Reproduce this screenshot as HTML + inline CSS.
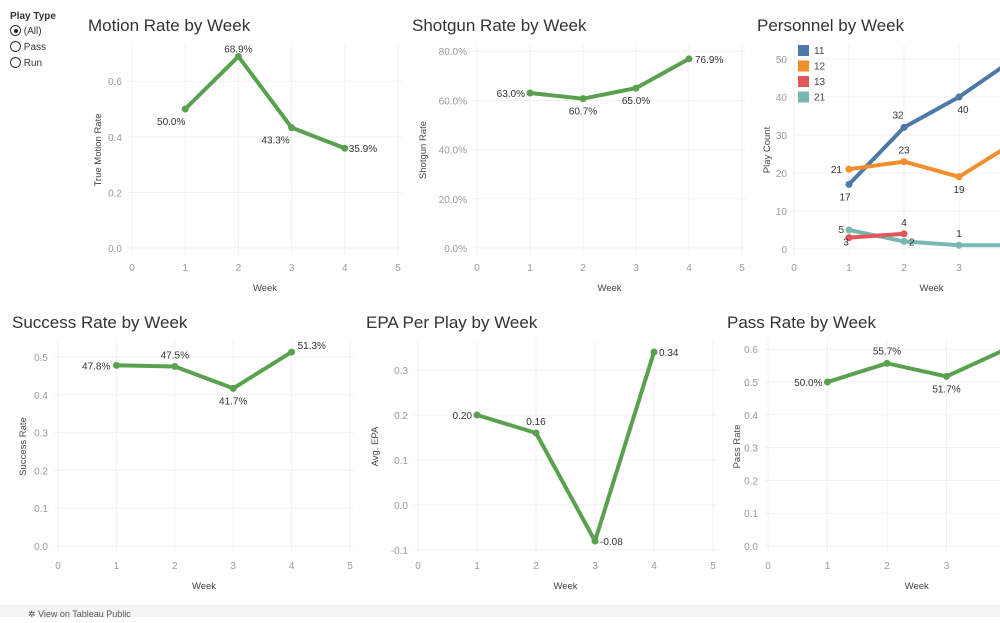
<!DOCTYPE html>
<html><head><meta charset="utf-8"><style>
body{margin:0;width:1000px;height:617px;overflow:hidden;background:#fff;font-family:"Liberation Sans",sans-serif;position:relative}
.t{position:absolute;font-size:17px;color:#333}
svg{position:absolute;left:0;top:0}
</style></head><body>
<div style="position:absolute;left:10px;top:11px;font-size:10px;color:#333">
<div style="font-weight:bold;margin-bottom:3px">Play Type</div>
<div style="height:16px"><span style="display:inline-block;width:9px;height:9px;border:1px solid #333;border-radius:50%;vertical-align:-2px;position:relative"><span style="position:absolute;left:2.5px;top:2.5px;width:4px;height:4px;border-radius:50%;background:#222"></span></span> (All)</div>
<div style="height:16px"><span style="display:inline-block;width:9px;height:9px;border:1px solid #333;border-radius:50%;vertical-align:-2px"></span> Pass</div>
<div style="height:16px"><span style="display:inline-block;width:9px;height:9px;border:1px solid #333;border-radius:50%;vertical-align:-2px"></span> Run</div>
</div>
<div class="t" style="left:88px;top:16px">Motion Rate by Week</div>
<div class="t" style="left:412px;top:16px">Shotgun Rate by Week</div>
<div class="t" style="left:757px;top:16px">Personnel by Week</div>
<div class="t" style="left:12px;top:313px">Success Rate by Week</div>
<div class="t" style="left:366px;top:313px">EPA Per Play by Week</div>
<div class="t" style="left:727px;top:313px">Pass Rate by Week</div>
<div style="position:absolute;left:0;top:605px;width:1000px;height:12px;background:#f4f4f4;font-size:9px;color:#555;line-height:18px;padding-left:28px;box-sizing:border-box">✲ View on Tableau Public</div>
<svg id="s" width="1000" height="617"></svg>
<script>
const weeks=[1,2,3,4];
const motionVals=[0.5,0.689,0.433,0.359];
const shotgunVals=[0.63,0.607,0.65,0.769];
const p11=[17,32,40,50];
const p12=[21,23,19,28];
const p13=[3,4];
const p21=[5,2,1,1];
const successVals=[0.478,0.475,0.417,0.513];
const epaVals=[0.20,0.16,-0.08,0.34];
const passVals=[0.5,0.557,0.517,0.6];
const xTicks=[0,1,2,3,4,5];
const motionTicks=[0,0.2,0.4,0.6];
const shotgunTicks=[0,0.2,0.4,0.6,0.8];
const personnelTicks=[0,10,20,30,40,50];
const successTicks=[0,0.1,0.2,0.3,0.4,0.5];
const epaTicks=[-0.1,0,0.1,0.2,0.3];
const passTicks=[0,0.1,0.2,0.3,0.4,0.5,0.6];
const svg=document.getElementById('s');const NS='http://www.w3.org/2000/svg';
function el(t,a,txt){const e=document.createElementNS(NS,t);for(const k in a)e.setAttribute(k,a[k]);if(txt!==undefined)e.textContent=txt;svg.appendChild(e);return e;}
function pct(v){return (v*100).toFixed(1)+'%';}
function chart(c){
 const X=v=>c.x0+(v)*c.xs, Y=v=>c.y0-(v-c.ymin)*c.ys;
 const L=c.L,R=Math.min(c.R,1000),T=c.T,B=c.B;
 xTicks.forEach(t=>{const x=X(t);if(x>1000)return;
  const g=el('line',{x1:x,x2:x,y1:T,y2:B,stroke:'#f0f0f0'});
  const tl=el('text',{x:x,y:B+16,'font-size':10,fill:'#999','text-anchor':'middle'},t);});
 c.yt.forEach(t=>{const y=Y(t);
  const g=el('line',{x1:L,x2:R,y1:y,y2:y,stroke:t===0&&c.zero?'#bbb':'#f0f0f0','stroke-dasharray':t===0&&c.zero?'2,2':''});
  const tl=el('text',{x:L-6,y:y+4,'font-size':10,fill:'#999','text-anchor':'end'},c.yf(t));});
 const xt=el('text',{x:(X(0)+X(5))/2,y:B+36,'font-size':9.5,fill:'#444','text-anchor':'middle'},'Week');
 const yc=(T+B)/2;const yt=el('text',{x:c.yx,y:yc,'font-size':9.5,fill:'#444','text-anchor':'middle',transform:`rotate(-90 ${c.yx} ${yc})`},c.ytitle);
 c.series.forEach(s=>{
  const pts=s.v.map((v,i)=>X(weeks[i])+','+Y(v)).join(' ');
  const pl=el('polyline',{points:pts,fill:'none',stroke:s.col,'stroke-width':4,'stroke-linejoin':'round'});
  s.v.forEach((v,i)=>{const cx=X(weeks[i]),cy=Y(v);if(cx>1000)return;
   const d=el('circle',{cx:cx,cy:cy,r:3.5,fill:s.col});
   const o=s.off[i];const lb=el('text',{x:cx+o[0],y:cy+o[1],'font-size':10,fill:'#333','text-anchor':o[2]||'middle'},s.f(v));});
 });
}
const G='#59a14f';
chart({x0:132,xs:53.2,y0:248,ymin:0,ys:278,L:128,R:402,T:45,B:255,yt:motionTicks,yf:v=>v.toFixed(1),ytitle:'True Motion Rate',yx:101,
 series:[{name:'motion',col:G,v:motionVals,f:pct,off:[[-14,16],[0,-4],[-16,16],[4,4,'start']]}]});
chart({x0:477,xs:53,y0:248,ymin:0,ys:246,L:473,R:746,T:45,B:255,yt:shotgunTicks,yf:v=>(v*100).toFixed(1)+'%',ytitle:'Shotgun Rate',yx:426,
 series:[{name:'shotgun',col:G,v:shotgunVals,f:pct,off:[[-5,4,'end'],[0,16],[0,16],[6,4,'start']]}]});
const ip=v=>String(v);
chart({x0:794,xs:55,y0:249,ymin:0,ys:3.8,L:793,R:1000,T:45,B:255,yt:personnelTicks,yf:ip,ytitle:'Play Count',yx:770,
 series:[{name:'personnel-11',col:'#4e79a7',v:p11,f:ip,off:[[-4,16],[-6,-9],[4,16],[0,-8]]},
 {name:'personnel-12',col:'#f28e2b',v:p12,f:ip,off:[[-7,4,'end'],[0,-8],[0,16],[0,-8]]},
 {name:'personnel-21',col:'#76b7b2',v:p21,f:ip,off:[[-5,3,'end'],[5,4,'start'],[0,-8],[0,-8]]},
 {name:'personnel-13',col:'#e15759',v:p13,f:ip,off:[[-3,8],[0,-8]]}]});
[['11','#4e79a7'],['12','#f28e2b'],['13','#e15759'],['21','#76b7b2']].forEach((l,i)=>{
 const r=el('rect',{x:798,y:45+i*15.5,width:11,height:11,fill:l[1]});
 const t=el('text',{x:814,y:54+i*15.5,'font-size':10,fill:'#444'},l[0]);});
chart({x0:58,xs:58.4,y0:546,ymin:0,ys:378,L:54,R:354,T:340,B:553,yt:successTicks,yf:v=>v.toFixed(1),ytitle:'Success Rate',yx:26,
 series:[{name:'success',col:G,v:successVals,f:pct,off:[[-6,4,'end'],[0,-8],[0,16],[6,-3,'start']]}]});
chart({x0:418,xs:59,y0:505,ymin:0,ys:450,L:414,R:717,T:340,B:553,yt:epaTicks,yf:v=>v.toFixed(1),ytitle:'Avg. EPA',yx:378,
 series:[{name:'epa',col:G,v:epaVals,f:v=>v.toFixed(2),off:[[-5,4,'end'],[0,-8],[5,4,'start'],[5,4,'start']]}]});
chart({x0:768,xs:59.5,y0:546,ymin:0,ys:328,L:764,R:1000,T:340,B:553,yt:passTicks,yf:v=>v.toFixed(1),ytitle:'Pass Rate',yx:740,
 series:[{name:'pass',col:G,v:passVals,f:pct,off:[[-5,4,'end'],[0,-9],[0,16],[0,-8]]}]});
</script></body></html>
